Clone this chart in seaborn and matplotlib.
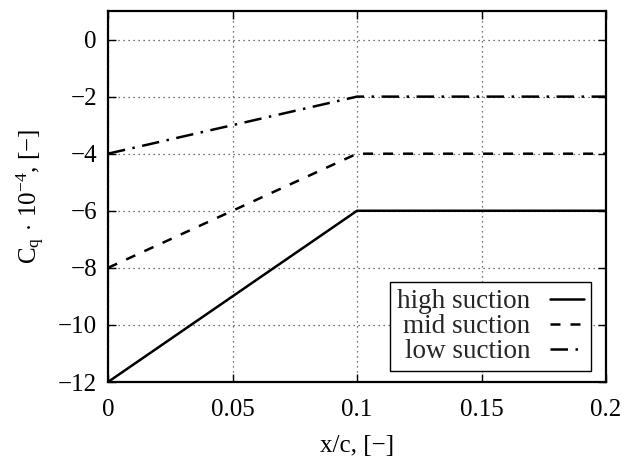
import matplotlib
matplotlib.use("Agg")
import matplotlib.pyplot as plt
import seaborn as sns
import pandas as pd
from matplotlib.lines import Line2D

x_c = [0.0, 0.1, 0.2]
high_suction = [-12, -6, -6]
mid_suction = [-8, -4, -4]
low_suction = [-4, -2, -2]
series_names = ["high suction", "mid suction", "low suction"]
x_ticks = [0, 0.05, 0.1, 0.15, 0.2]
x_tick_labels = ["0", "0.05", "0.1", "0.15", "0.2"]
y_ticks = [-12, -10, -8, -6, -4, -2, 0]
y_tick_labels = ["\u221212", "\u221210", "\u22128", "\u22126", "\u22124", "\u22122", "0"]

df = pd.concat([
    pd.DataFrame({"x": x_c, "y": vals, "series": name})
    for name, vals in zip(series_names, [high_suction, mid_suction, low_suction])
], ignore_index=True)

sns.set_theme(style="ticks")
plt.rcParams["font.family"] = ["Liberation Serif", "DejaVu Serif"]
plt.rcParams["mathtext.fontset"] = "custom"
plt.rcParams["mathtext.rm"] = "Liberation Serif"
plt.rcParams["mathtext.it"] = "Liberation Serif"

fig = plt.figure(figsize=(6.27, 4.65), dpi=100)
ax = fig.add_axes([108/627, 1-382/465, (606-108)/627, (382-11)/465])

dash_map = {"high suction": "", "mid suction": (4, 4), "low suction": (7, 3, 1, 3)}
palette = {n: "black" for n in series_names}
sns.lineplot(data=df, x="x", y="y", hue="series", style="series",
             dashes=dash_map, palette=palette, linewidth=1.8, ax=ax,
             legend=False, sort=False)

ax.set_xlim(0, 0.2)
ax.set_ylim(-12, 1)
ax.set_xticks(x_ticks)
ax.set_xticklabels(x_tick_labels)
ax.set_yticks(y_ticks)
ax.set_yticklabels(y_tick_labels)
ax.tick_params(direction="in", length=6, width=1, labelsize=18, colors="black",
               top=True, right=True)
ax.tick_params(axis="x", pad=12)
ax.tick_params(axis="y", pad=8)
for s in ax.spines.values():
    s.set_linewidth(1.6)
    s.set_color("black")
ax.grid(True, linestyle=(0, (1, 3)), color="#444444", linewidth=0.9)
ax.set_axisbelow(True)

minus = "\u2212"
ax.set_xlabel("x/c, [" + minus + "]", fontsize=18, color="black", labelpad=10)
ax.set_ylabel(r"C$_{\mathrm{q}}$$\,\cdot\,$10$^{\mathrm{-4}}$, [" + minus + "]",
              fontsize=18, color="black", labelpad=8)

handles = [Line2D([0], [0], color="black", lw=1.8,
                  linestyle="-" if dash_map[n] == "" else (0, dash_map[n]))
           for n in series_names]
leg = ax.legend(handles, series_names, loc="lower right",
                bbox_to_anchor=((591-108)/498, (382-371)/371),
                markerfirst=False, fontsize=19.5, frameon=True, fancybox=False,
                edgecolor="black", framealpha=1, handlelength=1.25,
                handletextpad=0.75, borderpad=0.25, labelspacing=0.0,
                borderaxespad=0.0)
leg.get_frame().set_linewidth(1.0)

fig.savefig("out.png", dpi=100)
